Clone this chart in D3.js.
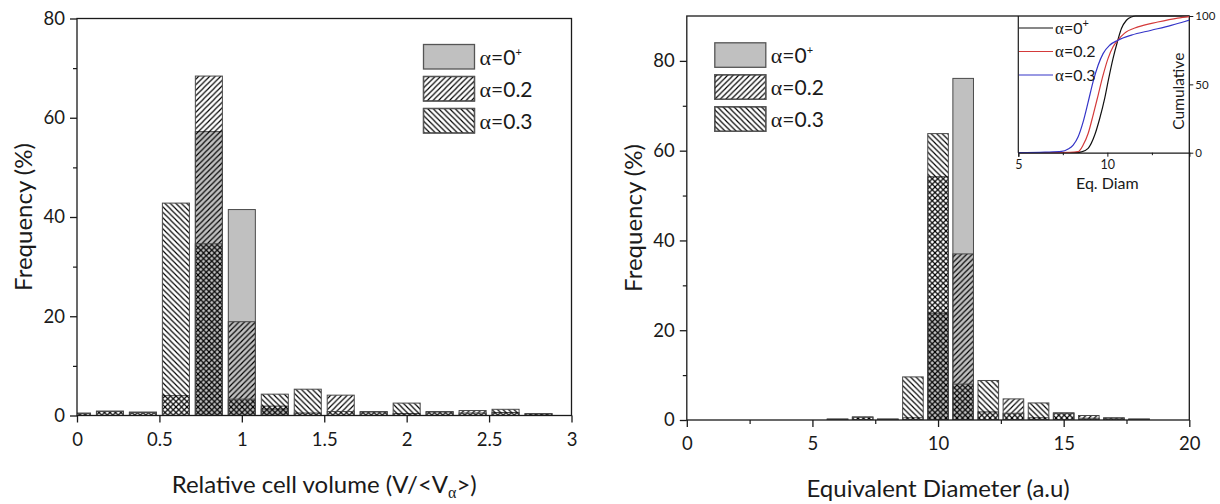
<!DOCTYPE html>
<html>
<head>
<meta charset="utf-8">
<script src="https://cdn.jsdelivr.net/npm/d3@7"></script>
<style>
  body { margin: 0; background: #fff; }
  text { font-family: Lato, "Open Sans", sans-serif; fill: #1a1a1a; }
</style>
</head>
<body>
<svg id="chart" width="1220" height="504"></svg>
<script>
// ---- Relative cell volume histogram (bin centres, frequency in %) ----
const volumeBins  = [0, 0.2, 0.4, 0.6, 0.8, 1.0, 1.2, 1.4, 1.6, 1.8, 2.0, 2.2, 2.4, 2.6, 2.8];
const volumeA0    = [0, 0, 0, 0, 57.2, 41.5, 1.3, 0, 0, 0, 0, 0, 0, 0, 0];
const volumeA02   = [0.5, 0.9, 0.7, 4.0, 68.4, 18.9, 1.9, 0.5, 4.1, 0.8, 0.4, 0.8, 1.0, 0.6, 0.3];
const volumeA03   = [0.4, 0.8, 0.6, 42.8, 34.6, 3.3, 4.3, 5.3, 0.8, 0.7, 2.5, 0.7, 0.5, 1.25, 0.4];
const volumeTicks = [0, 0.5, 1, 1.5, 2, 2.5, 3];
const volumeTickLabels = ["0", "0.5", "1", "1.5", "2", "2.5", "3"];
const freqTicksLeft  = [0, 20, 40, 60, 80];
const freqMinorLeft  = [10, 30, 50, 70];

// ---- Equivalent diameter histogram ----
const diameterBins = [6, 7, 8, 9, 10, 11, 12, 13, 14, 15, 16, 17, 18];
const diameterA0   = [0, 0, 0, 0, 23.8, 76.1, 0, 0, 0, 0, 0, 0, 0];
const diameterA02  = [0.2, 0.7, 0.2, 0.5, 54.2, 37.0, 1.8, 4.7, 0.5, 1.6, 1.0, 0.5, 0.2];
const diameterA03  = [0.2, 0.6, 0.2, 9.6, 63.8, 8.0, 8.8, 1.5, 3.8, 1.5, 0.4, 0.4, 0.2];
const diameterTicks = [0, 5, 10, 15, 20];
const diameterMinor = [2.5, 7.5, 12.5, 17.5];
const freqTicksRight = [0, 20, 40, 60, 80];
const freqMinorRight = [10, 30, 50, 70];

// ---- Inset: cumulative distribution of equivalent diameter [diam, %] ----
const cumA0 = [[5,0],[8.2,0],[8.55,0.6],[8.92,3.2],[9.29,12.9],[9.57,25],[9.85,39.7],[10.07,54],
               [10.32,69],[10.56,81],[10.79,90.8],[11.07,96.9],[11.35,99.3],[11.6,100],[14.6,100]];
const cumA02 = [[5,0],[7.9,0.2],[8.36,0.8],[8.64,5.6],[8.92,14],[9.2,27.5],[9.48,42],[9.76,56.7],
                [10.04,69],[10.32,77.5],[10.6,82.5],[10.97,87.5],[11.72,92],[12.83,95.6],[13.95,98.5],[14.6,99.6]];
const cumA03 = [[5,0],[6.5,0.4],[7.43,0.9],[7.8,2.7],[8.08,5.6],[8.36,11.7],[8.64,22.6],[8.92,37],
                [9.2,52],[9.48,64],[9.76,72.5],[10.13,78.6],[10.6,82.3],[11.35,86],[12.47,89.6],
                [13.58,93.2],[14.3,95.8],[14.6,97]];
const insetXTicks = [5, 10];
const insetXMinor = [7.5, 12.5];
const insetYTicks = [0, 50, 100];

const seriesNames = ["0", "0.2", "0.3"];
const lineColors = ["#111111", "#d43a3a", "#3535c8"];

const svg = d3.select("#chart");
svg.append("rect").attr("width", 1220).attr("height", 504).attr("fill", "#fff");

// hatch patterns: "/" for alpha=0.2, "\" for alpha=0.3 (transparent background)
const defs = svg.append("defs");
function hatch(id, rising) {
  const s = 5.5;
  const d = rising
    ? `M0,${s} L${s},0 M${-s / 2},${s / 2} L${s / 2},${-s / 2} M${s / 2},${s * 1.5} L${s * 1.5},${s / 2}`
    : `M0,0 L${s},${s} M${-s / 2},${s / 2} L${s / 2},${s * 1.5} M${s / 2},${-s / 2} L${s * 1.5},${s / 2}`;
  defs.append("pattern")
    .attr("id", id)
    .attr("patternUnits", "userSpaceOnUse")
    .attr("width", s).attr("height", s)
    .append("path")
    .attr("d", d)
    .attr("stroke", "#000").attr("stroke-width", 1.15).attr("fill", "none");
}
hatch("hatchUp", true);
hatch("hatchDown", false);
const fills = ["#c0c0c0", "url(#hatchUp)", "url(#hatchDown)"];

function alphaLabel(sel, name, size, supSize) {
  sel.append("tspan").attr("font-family", "'Liberation Serif', serif").attr("font-size", size + 1).text("α");
  sel.append("tspan").text("=" + name);
  if (name === "0") {
    sel.append("tspan").attr("font-size", supSize).attr("dy", -size * 0.42).text("+");
  }
}

function panel(cfg) {
  const { x, y, bins, series, binWidth, clipId, xTicks, xLabels, xMinor, yTicks, yMinor } = cfg;
  const [x0, x1] = x.range();
  const [y0, y1] = y.range();

  defs.append("clipPath").attr("id", clipId)
    .append("rect").attr("x", x0).attr("y", y1).attr("width", x1 - x0).attr("height", y0 - y1);

  const g = svg.append("g").attr("clip-path", `url(#${clipId})`);
  series.forEach((vals, si) => {
    const data = bins.map((b, i) => ({ b, v: vals[i] })).filter(d => d.v > 0);
    g.selectAll(null).data(data).enter().append("rect")
      .attr("x", d => x(d.b - binWidth * 0.41))
      .attr("width", d => x(d.b + binWidth * 0.41) - x(d.b - binWidth * 0.41))
      .attr("y", d => y(d.v))
      .attr("height", d => y(0) - y(d.v))
      .attr("fill", fills[si])
      .attr("stroke", "#4a4a4a")
      .attr("stroke-width", 1);
  });

  // frame
  svg.append("rect").attr("x", x0).attr("y", y1).attr("width", x1 - x0).attr("height", y0 - y1)
    .attr("fill", "none").attr("stroke", "#1a1a1a").attr("stroke-width", 1.3);

  // bottom axis
  const xa = svg.append("g").attr("transform", `translate(0,${y0})`)
    .call(d3.axisBottom(x).tickValues(xTicks).tickSize(7).tickFormat((d, i) => xLabels[i]));
  xa.select(".domain").remove();
  xa.selectAll("line").attr("stroke", "#1a1a1a").attr("stroke-width", 1.3);
  xa.selectAll("text").attr("y", 23.5).attr("dy", "0.36em")
    .attr("font-size", 18.5).attr("font-family", "Lato, sans-serif").attr("fill", "#1a1a1a");
  if (xMinor) {
    const xm = svg.append("g").attr("transform", `translate(0,${y0})`)
      .call(d3.axisBottom(x).tickValues(xMinor).tickSize(4).tickFormat(""));
    xm.select(".domain").remove();
    xm.selectAll("line").attr("stroke", "#1a1a1a").attr("stroke-width", 1.2);
  }

  // left axis
  const ya = svg.append("g").attr("transform", `translate(${x0},0)`)
    .call(d3.axisLeft(y).tickValues(yTicks).tickSize(7).tickPadding(5));
  ya.select(".domain").remove();
  ya.selectAll("line").attr("stroke", "#1a1a1a").attr("stroke-width", 1.3);
  ya.selectAll("text").attr("font-size", 18.5).attr("font-family", "Lato, sans-serif").attr("fill", "#1a1a1a");
  const ym = svg.append("g").attr("transform", `translate(${x0},0)`)
    .call(d3.axisLeft(y).tickValues(yMinor).tickSize(4).tickFormat(""));
  ym.select(".domain").remove();
  ym.selectAll("line").attr("stroke", "#1a1a1a").attr("stroke-width", 1.2);
}

function legend(lx, ly, step, fontSize) {
  seriesNames.forEach((name, i) => {
    const top = ly + i * step;
    svg.append("rect").attr("x", lx).attr("y", top).attr("width", 51).attr("height", 24.5)
      .attr("fill", i === 0 ? fills[0] : "#fff").attr("stroke", "#555").attr("stroke-width", 1.3);
    if (i > 0) {
      svg.append("rect").attr("x", lx).attr("y", top).attr("width", 51).attr("height", 24.5)
        .attr("fill", fills[i]).attr("stroke", "#555").attr("stroke-width", 1.3);
    }
    const t = svg.append("text").attr("x", lx + 56).attr("y", top + 12.5).attr("dy", "0.36em")
      .attr("font-size", fontSize);
    alphaLabel(t, name, fontSize, 11);
  });
}

// ===== Left panel: relative cell volume =====
const xL = d3.scaleLinear().domain([0, 3]).range([77, 571.5]);
const yL = d3.scaleLinear().domain([0, 80]).range([415.5, 18.5]);
panel({
  x: xL, y: yL, bins: volumeBins, series: [volumeA0, volumeA02, volumeA03], binWidth: 0.2,
  clipId: "clipL", xTicks: volumeTicks, xLabels: volumeTickLabels, xMinor: null,
  yTicks: freqTicksLeft, yMinor: freqMinorLeft
});
legend(423.5, 44.5, 32, 21);

const xtL = svg.append("text").attr("x", (77 + 571.5) / 2).attr("y", 493)
  .attr("text-anchor", "middle").attr("font-size", 24);
xtL.append("tspan").text("Relative cell volume (V/<V");
xtL.append("tspan").attr("font-family", "'Liberation Serif', serif").attr("font-size", 16).attr("dy", 5).text("α");
xtL.append("tspan").attr("dy", -5).text(">)");

svg.append("text").attr("transform", `translate(32,${(18.5 + 415.5) / 2}) rotate(-90)`)
  .attr("text-anchor", "middle").attr("font-size", 24).text("Frequency (%)");

// ===== Right panel: equivalent diameter =====
const xR = d3.scaleLinear().domain([0, 20]).range([686.8, 1189.3]);
const yR = d3.scaleLinear().domain([0, 90]).range([420, 16]);
panel({
  x: xR, y: yR, bins: diameterBins, series: [diameterA0, diameterA02, diameterA03], binWidth: 1,
  clipId: "clipR", xTicks: diameterTicks, xLabels: diameterTicks.map(String), xMinor: diameterMinor,
  yTicks: freqTicksRight, yMinor: freqMinorRight
});
legend(714.8, 42.8, 32, 21);

svg.append("text").attr("x", (686.8 + 1189.3) / 2).attr("y", 496.5)
  .attr("text-anchor", "middle").attr("font-size", 24).text("Equivalent Diameter (a.u)");
svg.append("text").attr("transform", `translate(642,${(16 + 420) / 2}) rotate(-90)`)
  .attr("text-anchor", "middle").attr("font-size", 24).text("Frequency (%)");

// ===== Inset: cumulative curves =====
const xI = d3.scaleLinear().domain([5, 14.6]).range([1018.3, 1189.3]);
const yI = d3.scaleLinear().domain([0, 100]).range([152.7, 16]);

defs.append("clipPath").attr("id", "clipI")
  .append("rect").attr("x", 1018.3).attr("y", 15).attr("width", 171).attr("height", 138.5);

const line = d3.line().x(d => xI(d[0])).y(d => yI(d[1])).curve(d3.curveMonotoneX);
const curves = svg.append("g").attr("clip-path", "url(#clipI)");
[cumA0, cumA02, cumA03].forEach((pts, i) => {
  curves.append("path").datum(pts).attr("d", line)
    .attr("fill", "none").attr("stroke", lineColors[i]).attr("stroke-width", 1.2);
});

// inset axes
svg.append("line").attr("x1", 1018.3).attr("x2", 1018.3).attr("y1", 16).attr("y2", 152.7)
  .attr("stroke", "#1a1a1a").attr("stroke-width", 1.2);
const xIa = svg.append("g").attr("transform", "translate(0,152.7)")
  .call(d3.axisBottom(xI).tickValues(insetXTicks).tickSize(4).tickPadding(3));
xIa.select(".domain").attr("stroke", "#1a1a1a").attr("stroke-width", 1.2);
xIa.selectAll("line").attr("stroke", "#1a1a1a");
xIa.selectAll("text").attr("font-size", 12.5).attr("font-family", "Lato, sans-serif").attr("fill", "#1a1a1a");
const xIm = svg.append("g").attr("transform", "translate(0,152.7)")
  .call(d3.axisBottom(xI).tickValues(insetXMinor).tickSize(2.5).tickFormat(""));
xIm.select(".domain").remove();
xIm.selectAll("line").attr("stroke", "#1a1a1a");

const yIa = svg.append("g").attr("transform", "translate(1189.3,0)")
  .call(d3.axisRight(yI).tickValues(insetYTicks).tickSize(4).tickPadding(2));
yIa.select(".domain").remove();
yIa.selectAll("line").attr("stroke", "#1a1a1a");
yIa.selectAll("text").attr("font-size", 11.5).attr("font-family", "Lato, sans-serif").attr("fill", "#1a1a1a");

svg.append("text").attr("x", xI(10)).attr("y", 189)
  .attr("text-anchor", "middle").attr("font-size", 16).text("Eq. Diam");
svg.append("text").attr("transform", `translate(1184,${yI(45)}) rotate(-90)`)
  .attr("text-anchor", "middle").attr("font-size", 15.5).text("Cumulative");

// inset legend
seriesNames.forEach((name, i) => {
  const ly = 28 + i * 23.5;
  svg.append("line").attr("x1", 1019).attr("x2", 1053).attr("y1", ly).attr("y2", ly)
    .attr("stroke", lineColors[i]).attr("stroke-width", 1.2);
  const t = svg.append("text").attr("x", 1055).attr("y", ly).attr("dy", "0.36em").attr("font-size", 16);
  alphaLabel(t, name, 16, 11);
});
</script>
</body>
</html>
